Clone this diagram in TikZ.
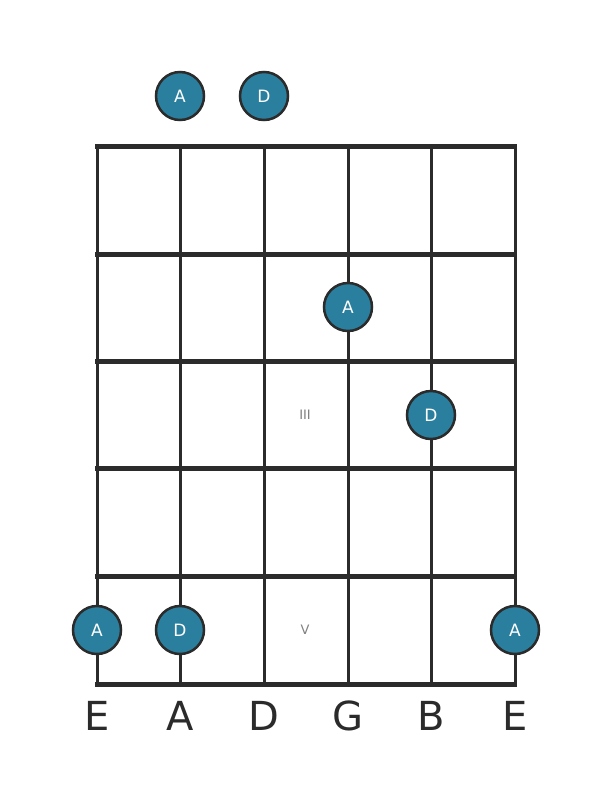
\documentclass[tikz,border=0pt]{standalone}
\usepackage{fontspec}
\setmainfont{DejaVu Sans}
\definecolor{dotfill}{HTML}{2A7F9E}
\definecolor{ink}{HTML}{2B2B2B}
\begin{document}
\begin{tikzpicture}[x=1pt,y=-1pt,
  fret/.style={line width=5pt,draw=ink},
  str/.style={line width=3pt,draw=ink},
  dot/.style={circle,fill=dotfill,draw=ink,line width=2.5pt,minimum size=48pt,inner sep=0pt,text=white,font=\fontsize{17}{17}\selectfont},
  lbl/.style={text=ink,font=\fontsize{40}{40}\selectfont},
  roman/.style={text=gray,font=\fontsize{13}{13}\selectfont}]
\useasboundingbox (0,0) rectangle (611,801);
\foreach \i/\x in {1/97,2/180,3/264,4/348,5/431,6/515}{
  \coordinate (st\i) at (\x,146);
  \coordinate (sb\i) at (\x,684);
  \draw[str] (st\i) -- (sb\i);
}
\foreach \j/\y in {0/146,1/254,2/361,3/468,4/576,5/684}{
  \coordinate (fl\j) at (95,\y);
  \coordinate (fr\j) at (517,\y);
  \draw[fret] (fl\j) -- (fr\j);
}
\node[roman] (r3) at (305,415) {III};
\node[roman] (r5) at (305,630) {V};
\node[dot] (o1) at (180,96) {A};
\node[dot] (o2) at (264,96) {D};
\node[dot] (d1) at (348,307) {A};
\node[dot] (d2) at (431,415) {D};
\node[dot] (d3) at (97,630) {A};
\node[dot] (d4) at (180,630) {D};
\node[dot] (d5) at (515,630) {A};
\foreach \i/\x/\t in {1/97/E,2/180/A,3/264/D,4/348/G,5/431/B,6/515/E}{
  \node[lbl] (l\i) at (\x,716) {\t};
}
\end{tikzpicture}
\end{document}
